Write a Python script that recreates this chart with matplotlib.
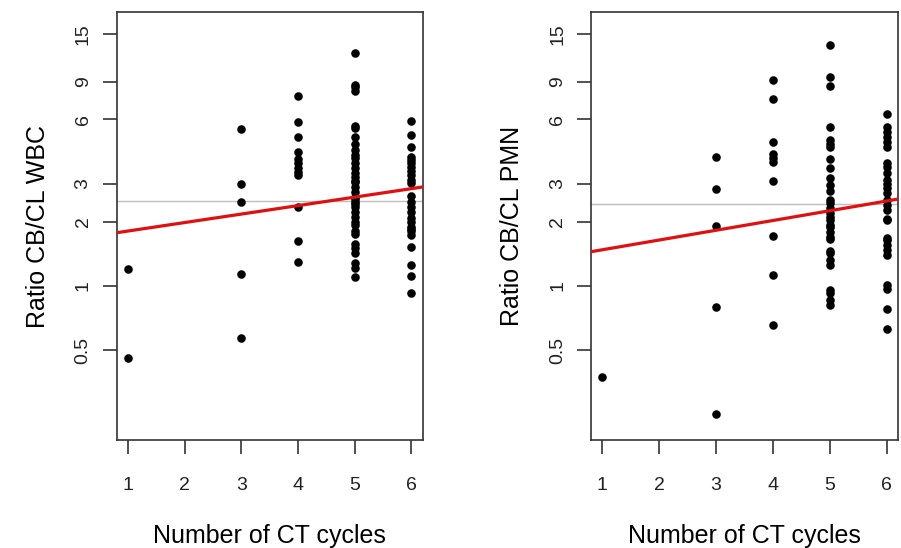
import numpy as np
import matplotlib
matplotlib.use("Agg")
import matplotlib.pyplot as plt

plt.rcParams['font.family'] = ['Liberation Sans', 'DejaVu Sans']

# CT cycle groups and ratios (log scale)
cycles = [1, 3, 4, 5, 6]

wbc_c1 = [1.2, 0.46]
wbc_c3 = [5.4, 3.0, 2.46, 1.14, 0.57]
wbc_c4 = [7.74, 5.82, 4.98, 4.22, 3.90, 3.74, 3.57, 3.42, 3.31, 2.33, 1.62, 1.30]
wbc_c5 = [12.3, 8.68, 8.47, 8.17, 5.59, 5.45, 4.98, 4.60, 4.3, 4.09, 3.95, 3.74,
          3.57, 3.38, 3.24, 3.1, 3.07, 2.91, 2.76, 2.61, 2.55, 2.48, 2.42, 2.35,
          2.22, 2.11, 2.0, 1.93, 1.80, 1.75, 1.57, 1.50, 1.42, 1.28, 1.22, 1.10]
wbc_c6 = [5.90, 5.07, 4.44, 4.02, 3.88, 3.74, 3.61, 3.45, 3.30, 3.13, 3.02, 2.63,
          2.48, 2.35, 2.22, 2.07, 1.98, 1.89, 1.84, 1.81, 1.73, 1.52, 1.25, 1.11, 0.93]

pmn_c1 = [0.377]
pmn_c3 = [4.02, 2.83, 1.91, 0.80, 0.253]
pmn_c4 = [9.13, 7.47, 4.72, 4.12, 3.95, 3.78, 3.10, 1.72, 1.12, 0.66]
pmn_c5 = [13.3, 9.5, 8.56, 5.55, 4.80, 4.60, 4.47, 3.90, 3.54, 3.20, 2.96, 2.78,
          2.52, 2.43, 2.31, 2.20, 2.11, 2.03, 1.93, 1.88, 1.78, 1.69, 1.65, 1.46,
          1.42, 1.32, 1.25, 0.958, 0.924, 0.86, 0.815]
pmn_c6 = [6.38, 5.55, 5.25, 4.98, 4.72, 4.47, 3.76, 3.61, 3.38, 3.13, 2.99, 2.86,
          2.71, 2.52, 2.39, 2.26, 2.06, 2.03, 1.67, 1.64, 1.55, 1.47, 1.40, 1.01,
          0.965, 0.78, 0.63]

# horizontal reference (grey) and log-linear fit ln(y) = a + b*x (red)
wbc_ref, pmn_ref = 2.50, 2.41
wbc_fit = (0.500, 0.0911)
pmn_fit = (0.285, 0.1048)

x_ticks = [1, 2, 3, 4, 5, 6]
y_ticks = [0.5, 1, 2, 3, 6, 9, 15]
y_ticklabels = ['0.5', '1', '2', '3', '6', '9', '15']


def panel(ax, groups, ref, fit, ylabel):
    xs = np.concatenate([[c] * len(g) for c, g in zip(cycles, groups)])
    ys = np.concatenate(groups)
    ax.set_yscale('log')
    ax.set_xlim(0.8, 6.2)
    ax.set_ylim(0.19, 18.97)
    ax.axhline(ref, color='#bdbdbd', lw=1.0, zorder=1)
    ax.scatter(xs, ys, s=38, color='black', zorder=3, linewidths=0)
    xl = np.array(ax.get_xlim())
    ax.plot(xl, np.exp(fit[0] + fit[1] * xl), color='#e01010', lw=2.3, zorder=4)
    ax.set_xticks(x_ticks)
    ax.set_xticklabels([str(t) for t in x_ticks])
    ax.set_yticks(y_ticks)
    ax.set_yticklabels(y_ticklabels, rotation=90, va='center')
    ax.yaxis.set_minor_locator(matplotlib.ticker.NullLocator())
    ax.tick_params(axis='both', length=10, width=1.1, colors='#222222',
                   labelsize=14, pad=8)
    ax.tick_params(axis='x', pad=16)
    for sp in ax.spines.values():
        sp.set_color('#333333')
        sp.set_linewidth(1.2)
    ax.set_xlabel('Number of CT cycles', fontsize=18, labelpad=22)
    ax.set_ylabel(ylabel, fontsize=18, labelpad=18)


fig = plt.figure(figsize=(9.01, 5.48), dpi=100)
ax1 = fig.add_axes([0.1295, 0.1962, 0.3396, 0.7814])
ax2 = fig.add_axes([0.656, 0.1962, 0.3407, 0.7814])

panel(ax1, [wbc_c1, wbc_c3, wbc_c4, wbc_c5, wbc_c6], wbc_ref, wbc_fit, 'Ratio CB/CL WBC')
panel(ax2, [pmn_c1, pmn_c3, pmn_c4, pmn_c5, pmn_c6], pmn_ref, pmn_fit, 'Ratio CB/CL PMN')

fig.savefig('out.png', dpi=100)
